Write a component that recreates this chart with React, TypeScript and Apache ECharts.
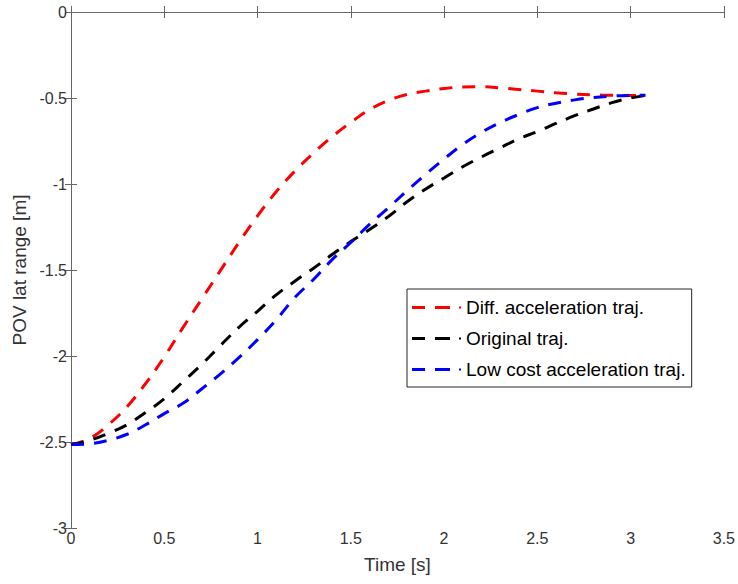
import React, { useEffect, useRef } from "react";
import * as echarts from "echarts";

const times = [0, 0.1, 0.2, 0.3, 0.4, 0.5, 0.6, 0.7, 0.8, 0.9, 1.0, 1.1, 1.2, 1.3, 1.4, 1.5, 1.6, 1.7, 1.8, 1.9, 2.0, 2.1, 2.2, 2.3, 2.4, 2.5, 2.6, 2.7, 2.8, 2.9, 3.0, 3.08];

const diffAccel = [-2.515, -2.48, -2.40, -2.295, -2.16, -2.005, -1.835, -1.67, -1.505, -1.34, -1.185, -1.045, -0.925, -0.82, -0.725, -0.642, -0.568, -0.515, -0.48, -0.46, -0.445, -0.436, -0.435, -0.441, -0.451, -0.46, -0.47, -0.477, -0.482, -0.484, -0.485, -0.485];

const original = [-2.515, -2.49, -2.45, -2.40, -2.328, -2.248, -2.15, -2.05, -1.94, -1.833, -1.74, -1.645, -1.565, -1.49, -1.41, -1.335, -1.265, -1.19, -1.105, -1.03, -0.965, -0.90, -0.843, -0.79, -0.737, -0.695, -0.648, -0.603, -0.564, -0.527, -0.50, -0.485];

const lowCost = [-2.515, -2.51, -2.49, -2.455, -2.40, -2.335, -2.275, -2.192, -2.105, -2.01, -1.905, -1.79, -1.66, -1.555, -1.44, -1.34, -1.235, -1.14, -1.04, -0.945, -0.855, -0.77, -0.70, -0.643, -0.596, -0.556, -0.53, -0.511, -0.497, -0.489, -0.485, -0.484];

const seriesNames = ["Diff. acceleration traj.", "Original traj.", "Low cost acceleration traj."];
const seriesColors = ["#ff0000", "#000000", "#0000ff"];

const xTicks = { min: 0, max: 3.5, interval: 0.5 };
const yTicks = { min: -3, max: 0, interval: 0.5 };

const FONT = "'Liberation Sans', Arial, Helvetica, sans-serif";
const AXIS_COLOR = "#666666";
const LABEL_COLOR = "#333333";

const legendIcon = "path://M0 0H13V3H0Z M23 0H38V3H23Z M47 0.6H49V2.4H47Z";

export default function App() {
  const ref = useRef<HTMLDivElement | null>(null);

  useEffect(() => {
    if (!ref.current) return;
    const chart = echarts.init(ref.current, undefined, { renderer: "svg" });
    const datasets = [diffAccel, original, lowCost];

    const axisCommon = {
      type: "value" as const,
      axisLine: { show: true, lineStyle: { color: AXIS_COLOR, width: 1 } },
      axisTick: { show: true, inside: true, length: 6, lineStyle: { color: AXIS_COLOR, width: 1 } },
      splitLine: { show: false },
    };

    chart.setOption({
      animation: false,
      backgroundColor: "#ffffff",
      textStyle: { fontFamily: FONT },
      grid: { left: 71, top: 12, right: 12, bottom: 56, containLabel: false },
      xAxis: [
        {
          ...axisCommon,
          ...xTicks,
          position: "bottom",
          name: "Time [s]",
          nameLocation: "middle",
          nameGap: 27,
          nameTextStyle: { fontSize: 19, color: LABEL_COLOR, fontFamily: FONT },
          axisLabel: { fontSize: 16, color: LABEL_COLOR, margin: 2, fontFamily: FONT },
        },
        {
          ...axisCommon,
          ...xTicks,
          position: "top",
          axisLabel: { show: false },
        },
      ],
      yAxis: [
        {
          ...axisCommon,
          ...yTicks,
          position: "left",
          name: "POV lat range [m]",
          nameLocation: "middle",
          nameGap: 42,
          nameTextStyle: { fontSize: 19, color: LABEL_COLOR, fontFamily: FONT },
          axisLabel: { fontSize: 16, color: LABEL_COLOR, margin: 4, fontFamily: FONT },
        },
        {
          ...axisCommon,
          ...yTicks,
          position: "right",
          axisLabel: { show: false },
        },
      ],
      legend: {
        orient: "vertical",
        left: 407,
        top: 289,
        backgroundColor: "#ffffff",
        borderColor: "#262626",
        borderWidth: 1,
        borderRadius: 0,
        padding: [9, 6, 8, 5],
        itemGap: 12,
        itemWidth: 49,
        itemHeight: 3,
        icon: legendIcon,
        textStyle: { fontSize: 19, color: "#000000", fontFamily: FONT },
        data: seriesNames,
      },
      series: seriesNames.map((name, i) => ({
        name,
        type: "line",
        xAxisIndex: 0,
        yAxisIndex: 0,
        symbol: "none",
        smooth: 0.4,
        color: seriesColors[i],
        lineStyle: { color: seriesColors[i], width: 3, type: [13, 10] },
        data: times.map((t, k) => [t, datasets[i][k]]),
      })),
    });

    return () => chart.dispose();
  }, []);

  return (
    <div
      ref={ref}
      style={{ position: "absolute", left: 0, top: 0, width: 738, height: 584 }}
    />
  );
}
